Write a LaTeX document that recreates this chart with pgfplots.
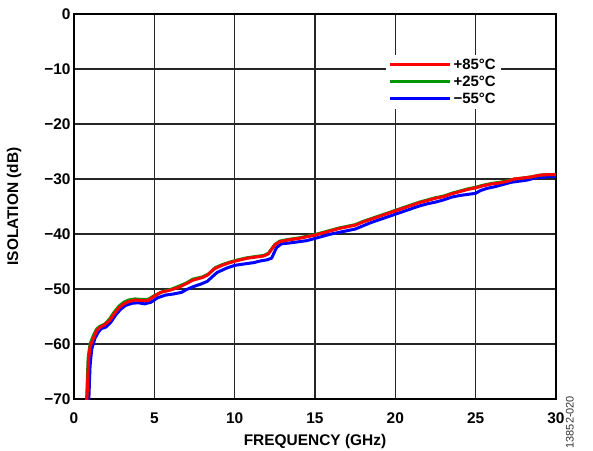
\documentclass[border=0pt]{standalone}
\usepackage{fontspec}
\setmainfont{Liberation Sans}
\usepackage{pgfplots}
\pgfplotsset{compat=1.18}
\definecolor{curvered}{RGB}{255,0,0}
\definecolor{curvegreen}{RGB}{0,150,0}
\definecolor{curveblue}{RGB}{0,0,255}
\begin{document}
\begin{tikzpicture}
\begin{axis}[
scale only axis,
width=482bp, height=385bp,
xmin=0, xmax=30, ymin=-70, ymax=0,
xtick={0,5,...,30},
ytick={-70,-60,...,0},
yticklabels={−70,−60,−50,−40,−30,−20,−10,0},
tick style={draw=none},
axis line style={line width=1.8bp, black},
grid=major,
major grid style={line width=1.3bp, black!85},
tick label style={font=\fontsize{15.5}{16}\selectfont\bfseries},
xticklabel style={yshift=-10bp},
/pgf/number format/assume math mode=true,
label style={font=\fontsize{15.5}{17}\selectfont\bfseries},
xlabel={FREQUENCY (GHz)},
ylabel={ISOLATION (dB)},
xlabel shift=4bp,
ylabel shift=16bp,
clip=true,
reverse legend,
legend cell align=left,
legend style={at={(0.766,0.824)}, anchor=center, draw=none, fill=white,
  font=\fontsize{15}{15.5}\selectfont\bfseries, row sep=1bp},
legend image code/.code={\draw[#1, line width=3bp] (0bp,0bp) -- (60bp,0bp);},
every axis plot/.append style={line width=3bp, line join=round},
]
% -55 C
\addplot[curveblue] coordinates {
(0.92,-70.5)(1.0,-64)(1.1,-61)(1.3,-59)(1.5,-57.9)(1.7,-57.2)(2.0,-56.9)(2.3,-56.0)
(2.6,-54.7)(2.9,-53.7)(3.2,-53.0)(3.6,-52.6)(4.0,-52.5)(4.4,-52.7)(4.8,-52.4)(5.2,-51.6)
(5.7,-51.1)(6.2,-50.9)(6.7,-50.6)(7.0,-50.1)(7.4,-49.6)(7.9,-49.1)(8.3,-48.6)(8.6,-47.8)
(8.9,-47.0)(9.5,-46.2)(10.0,-45.7)(10.7,-45.4)(11.2,-45.2)(11.6,-44.9)(12.0,-44.7)(12.3,-44.4)
(12.6,-42.5)(12.9,-41.8)(13.5,-41.6)(14.0,-41.4)(14.5,-41.2)(15.0,-40.8)(15.5,-40.4)(16.0,-40.0)
(16.5,-39.7)(17.0,-39.4)(17.5,-39.1)(18.0,-38.5)(18.5,-37.9)(19.0,-37.4)(19.5,-36.9)(20.0,-36.4)
(20.5,-35.9)(21.0,-35.4)(21.5,-34.9)(22.0,-34.5)(22.5,-34.2)(23.0,-33.8)(23.5,-33.3)(24.0,-33.0)
(24.5,-32.8)(25.0,-32.6)(25.3,-32.1)(25.7,-31.7)(26.2,-31.4)(26.7,-31.0)(27.2,-30.6)(27.7,-30.4)
(28.2,-30.2)(28.7,-29.8)(29.2,-29.7)(29.6,-29.5)(30,-29.6)
};
\addlegendentry{−55°C}
% +25 C
\addplot[curvegreen] coordinates {
(0.78,-70.5)(0.88,-62.5)(1.0,-60)(1.2,-58.5)(1.4,-57.3)(1.6,-56.8)(1.9,-56.4)(2.2,-55.5)
(2.5,-54.2)(2.8,-53.1)(3.1,-52.4)(3.4,-52.0)(3.8,-51.8)(4.2,-51.9)(4.6,-51.9)(5.0,-51.2)
(5.5,-50.5)(6.0,-50.1)(6.6,-49.4)(7.0,-48.9)(7.4,-48.2)(8.0,-47.8)(8.4,-47.2)(8.8,-46.1)
(9.2,-45.6)(9.7,-45.1)(10.2,-44.7)(10.8,-44.3)(11.3,-44.1)(11.8,-43.9)(12.1,-43.5)(12.5,-41.9)
(12.8,-41.3)(13.3,-41.0)(14.0,-40.7)(14.5,-40.4)(15.0,-40.1)(15.5,-39.7)(16.0,-39.3)(16.5,-38.9)
(17.0,-38.6)(17.5,-38.3)(18.0,-37.7)(18.5,-37.2)(19.0,-36.7)(19.5,-36.2)(20.0,-35.7)(20.5,-35.2)
(21.0,-34.7)(21.5,-34.2)(22.0,-33.8)(22.5,-33.4)(23.0,-33.1)(23.5,-32.6)(24.0,-32.2)(24.5,-31.8)
(25.0,-31.5)(25.5,-31.1)(26.0,-30.8)(26.5,-30.6)(27.0,-30.3)(27.4,-30.0)(28.0,-29.8)(28.5,-29.6)
(29.0,-29.3)(29.5,-29.2)(30,-29.2)
};
\addlegendentry{+25°C}
% +85 C
\addplot[curvered] coordinates {
(0.80,-70.5)(0.9,-63)(1.0,-60.5)(1.2,-59)(1.4,-57.6)(1.6,-57)(1.9,-56.5)(2.2,-55.8)
(2.5,-54.5)(2.8,-53.4)(3.1,-52.7)(3.4,-52.3)(3.8,-52.0)(4.2,-52.1)(4.6,-52.1)(5.0,-51.3)
(5.4,-50.6)(6.0,-50.2)(6.6,-49.6)(7.0,-49.0)(7.4,-48.4)(8.0,-47.9)(8.3,-47.5)(8.7,-46.4)
(9.2,-45.7)(9.7,-45.2)(10.2,-44.8)(10.8,-44.4)(11.3,-44.2)(11.8,-44.0)(12.1,-43.6)(12.5,-42.0)
(12.8,-41.4)(13.3,-41.1)(14.0,-40.8)(14.5,-40.5)(15.0,-40.2)(15.5,-39.8)(16.0,-39.4)(16.5,-39.0)
(17.0,-38.7)(17.5,-38.4)(18.0,-37.8)(18.5,-37.3)(19.0,-36.8)(19.5,-36.3)(20.0,-35.8)(20.5,-35.3)
(21.0,-34.8)(21.5,-34.3)(22.0,-33.9)(22.5,-33.5)(23.0,-33.2)(23.5,-32.7)(24.0,-32.3)(24.5,-31.9)
(25.0,-31.6)(25.5,-31.2)(26.0,-30.9)(26.5,-30.7)(27.0,-30.4)(27.4,-30.0)(28.0,-29.8)(28.5,-29.6)
(29.0,-29.3)(29.5,-29.2)(30,-29.2)
};
\addlegendentry{+85°C}
\coordinate (bl) at (rel axis cs:-0.1535,-0.1325);
\coordinate (tr) at (rel axis cs:1.0768,1.0364);
\coordinate (tag) at (rel axis cs:1.029,-0.06);
\end{axis}
\node[rotate=90, font=\fontsize{11}{12}\selectfont, text=black!80] at (tag) {13852-020};
\pgfresetboundingbox
\path[use as bounding box] (bl) rectangle (tr);
\end{tikzpicture}
\end{document}
